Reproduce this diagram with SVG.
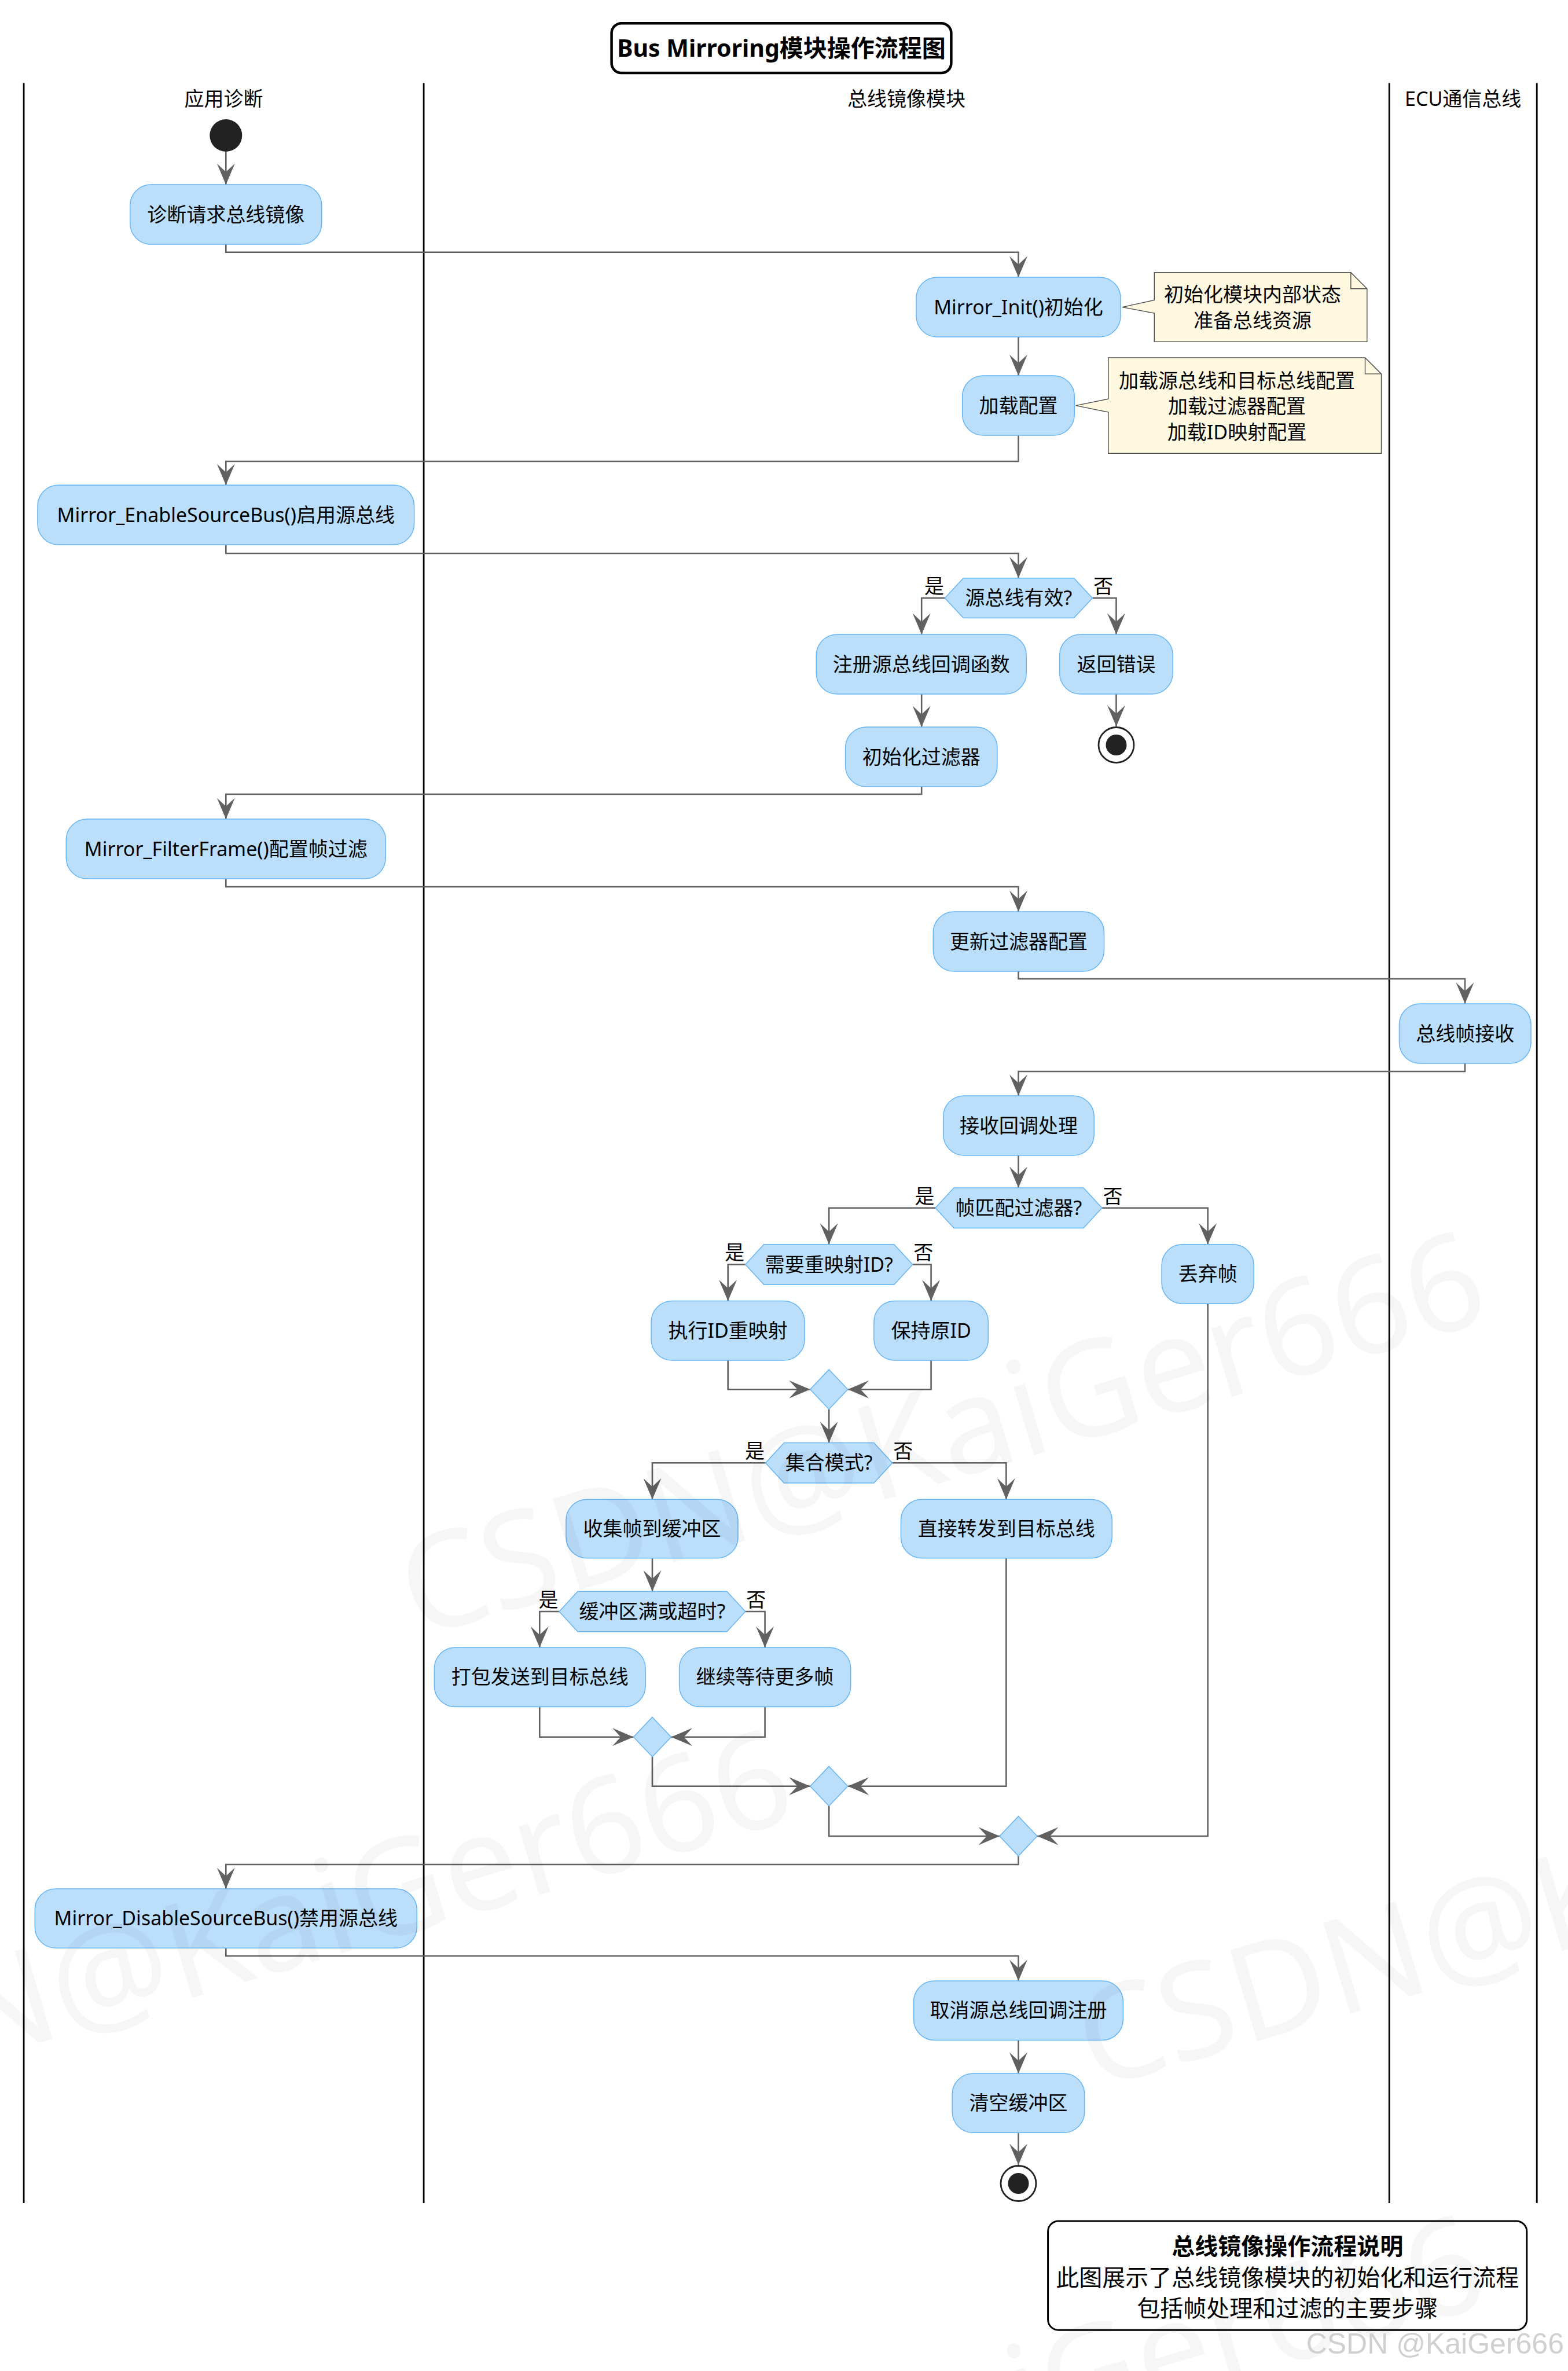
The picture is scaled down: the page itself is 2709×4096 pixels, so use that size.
<svg xmlns="http://www.w3.org/2000/svg" width="2709" height="4096" viewBox="0 0 2709 4096">
  <style>
    text { font-family: "Noto Sans", "Noto Sans CJK SC", sans-serif; font-size: 34px; fill: #000; }
    .c { text-anchor: middle; }
    .e { text-anchor: end; }
    .act { fill: #bbdefb; stroke: #64b5f6; stroke-width: 1.5; }
    .note { fill: #fef8e1; stroke: #4a4a4a; stroke-width: 1.4; }
    .fold { fill: none; stroke: #4a4a4a; stroke-width: 1.4; }
    .lane { stroke: #000; stroke-width: 2.8; }
    #connectors path { fill: none; stroke: #616161; stroke-width: 2.6; marker-end: url(#ah); }
    .wm { font-family: "Noto Sans", sans-serif; font-size: 230px; fill: #000; fill-opacity: 0.035; }
  </style>
  <defs>
    <marker id="ah" markerUnits="userSpaceOnUse" viewBox="-37 -16 38 32" markerWidth="38" markerHeight="32" refX="0" refY="0" orient="auto">
      <path d="M0,0 L-36.5,-15.5 L-22,0 L-36.5,15.5 Z" fill="#616161"/>
    </marker>
  </defs>

  <rect width="2709" height="4096" fill="#fff"/>

  <!-- title -->
  <g id="title">
    <rect x="1056.6" y="40.2" width="586.8" height="85.9" rx="17" fill="#fff" stroke="#000" stroke-width="4.5"/>
    <text x="1350" y="98" class="c" style="font-size:41px;font-weight:bold">Bus Mirroring模块操作流程图</text>
  </g>

  <!-- swimlanes -->
  <g id="lanes">
    <line class="lane" x1="41.1" y1="143.5" x2="41.1" y2="3806"/>
    <line class="lane" x1="732.1" y1="143.5" x2="732.1" y2="3806"/>
    <line class="lane" x1="2400.2" y1="143.5" x2="2400.2" y2="3806"/>
    <line class="lane" x1="2655.2" y1="143.5" x2="2655.2" y2="3806"/>
    <text x="386.6" y="183.4" class="c">应用诊断</text>
    <text x="1566" y="183.4" class="c">总线镜像模块</text>
    <text x="2527.7" y="183.4" class="c">ECU通信总线</text>
  </g>

  <!-- connectors -->
  <g id="connectors">
    <path d="M390.3,262 V319"/>
    <path d="M390.3,422 V435.7 H1759.5 V479"/>
    <path d="M1759.5,582 V649"/>
    <path d="M1759.5,752 V797 H390.3 V838"/>
    <path d="M390.3,941 V956 H1759.5 V998.7"/>
    <path d="M1632.4,1033.2 H1592.2 V1096"/>
    <path d="M1887.4,1033.2 H1928.5 V1096"/>
    <path d="M1928.5,1199 V1255"/>
    <path d="M1592.2,1199 V1256"/>
    <path d="M1592.2,1359 V1372 H390.3 V1415"/>
    <path d="M390.3,1518 V1532 H1759.5 V1575"/>
    <path d="M1759.5,1678 V1691 H2531 V1734"/>
    <path d="M2531,1837 V1851 H1759.5 V1893"/>
    <path d="M1759.5,1996 V2052"/>
    <path d="M1616,2086.7 H1432.2 V2149.7"/>
    <path d="M1903.9,2086.7 H2086.7 V2149.7"/>
    <path d="M1287.8,2184.5 H1257.7 V2247.5"/>
    <path d="M1576.7,2184.5 H1608.6 V2247.5"/>
    <path d="M1257.7,2350 V2400.2 H1399.7"/>
    <path d="M1608.6,2350 V2400.2 H1464.7"/>
    <path d="M1432.2,2434.5 V2492.5"/>
    <path d="M1322.6,2527.2 H1127 V2590.3"/>
    <path d="M1541.8,2527.2 H1738.4 V2590.3"/>
    <path d="M1127,2692 V2749.3"/>
    <path d="M966.1,2784 H932.3 V2846.2"/>
    <path d="M1287.8,2784 H1321.6 V2846.2"/>
    <path d="M932.3,2948.6 V3000.7 H1094.5"/>
    <path d="M1321.6,2948.6 V3000.7 H1159.5"/>
    <path d="M1127,3035 V3085.7 H1399.7"/>
    <path d="M1738.4,2692 V3085.7 H1464.7"/>
    <path d="M1432.2,3120 V3172 H1727"/>
    <path d="M2086.7,2252 V3172 H1792"/>
    <path d="M1759.5,3206.3 V3221 H390.3 V3263"/>
    <path d="M390.3,3365 V3379 H1759.5 V3422"/>
    <path d="M1759.5,3524.4 V3582"/>
    <path d="M1759.5,3684.3 V3740"/>
  </g>

  <!-- start -->
  <g id="start">
    <circle cx="390.3" cy="234" r="28" fill="#222"/>
  </g>

  <g id="a-request">
    <rect class="act" x="224.8" y="319" width="331" height="103" rx="36"/>
    <text x="390.3" y="382.5" class="c">诊断请求总线镜像</text>
  </g>

  <g id="a-init">
    <rect class="act" x="1583" y="479" width="353" height="103" rx="36"/>
    <text x="1759.5" y="542.5" class="c">Mirror_Init()初始化</text>
  </g>

  <g id="note-init">
    <path class="note" d="M1994.3,470.7 V518.5 L1939,530.6 L1994.3,541 V590.4 H2361.8 V498.7 L2333.8,470.7 Z"/>
    <path class="fold" d="M2333.8,470.7 V498.7 H2361.8"/>
    <text x="2164" y="521" class="c">初始化模块内部状态</text>
    <text x="2164" y="566" class="c">准备总线资源</text>
  </g>

  <g id="a-load">
    <rect class="act" x="1662.6" y="649" width="193.7" height="103" rx="36"/>
    <text x="1759.5" y="712.5" class="c">加载配置</text>
  </g>

  <g id="note-load">
    <path class="note" d="M1914.8,617.9 V689.2 L1858.5,700.6 L1914.8,712 V783.3 H2386.5 V645.9 L2358.5,617.9 Z"/>
    <path class="fold" d="M2358.5,617.9 V645.9 H2386.5"/>
    <text x="2137" y="669.5" class="c">加载源总线和目标总线配置</text>
    <text x="2137" y="714" class="c">加载过滤器配置</text>
    <text x="2137" y="758.5" class="c">加载ID映射配置</text>
  </g>

  <g id="a-enable">
    <rect class="act" x="65" y="838" width="650.6" height="103" rx="36"/>
    <text x="390.3" y="901.5" class="c">Mirror_EnableSourceBus()启用源总线</text>
  </g>

  <g id="d-valid">
    <polygon class="act" points="1632.4,1033.2 1664.4,998.7 1855.4,998.7 1887.4,1033.2 1855.4,1067.6 1664.4,1067.6"/>
    <text x="1759.9" y="1045.2" class="c">源总线有效?</text>
    <text x="1631" y="1025" class="e">是</text>
    <text x="1889" y="1025">否</text>
  </g>

  <g id="a-register">
    <rect class="act" x="1410.3" y="1096" width="362.9" height="103" rx="36"/>
    <text x="1591.8" y="1159.5" class="c">注册源总线回调函数</text>
  </g>

  <g id="a-error">
    <rect class="act" x="1830.7" y="1096" width="195.6" height="103" rx="36"/>
    <text x="1928.5" y="1159.5" class="c">返回错误</text>
  </g>

  <g id="end-error">
    <circle cx="1928.5" cy="1287" r="30.5" fill="#fff" stroke="#222" stroke-width="2.8"/>
    <circle cx="1928.5" cy="1287" r="18" fill="#222"/>
  </g>

  <g id="a-filter-init">
    <rect class="act" x="1460.6" y="1256" width="262.3" height="103" rx="36"/>
    <text x="1591.8" y="1319.5" class="c">初始化过滤器</text>
  </g>

  <g id="a-filterframe">
    <rect class="act" x="114.3" y="1415" width="552" height="103" rx="36"/>
    <text x="390.3" y="1478.5" class="c">Mirror_FilterFrame()配置帧过滤</text>
  </g>

  <g id="a-filter-update">
    <rect class="act" x="1612.3" y="1575" width="295.2" height="103" rx="36"/>
    <text x="1759.9" y="1638.5" class="c">更新过滤器配置</text>
  </g>

  <g id="a-bus-rx">
    <rect class="act" x="2417.5" y="1734" width="227.6" height="103" rx="36"/>
    <text x="2531.3" y="1797.5" class="c">总线帧接收</text>
  </g>

  <g id="a-rx-callback">
    <rect class="act" x="1629.7" y="1893" width="260.5" height="103" rx="36"/>
    <text x="1759.9" y="1956.5" class="c">接收回调处理</text>
  </g>

  <g id="d-match">
    <polygon class="act" points="1616,2086.7 1648,2051.9 1871.9,2051.9 1903.9,2086.7 1871.9,2121.4 1648,2121.4"/>
    <text x="1759.9" y="2098.7" class="c">帧匹配过滤器?</text>
    <text x="1614.5" y="2078.5" class="e">是</text>
    <text x="1905.5" y="2078.5">否</text>
  </g>

  <g id="d-remap">
    <polygon class="act" points="1287.8,2184.5 1319.8,2149.7 1544.7,2149.7 1576.7,2184.5 1544.7,2219.2 1319.8,2219.2"/>
    <text x="1432.2" y="2196.5" class="c">需要重映射ID?</text>
    <text x="1286.3" y="2176.3" class="e">是</text>
    <text x="1578.2" y="2176.3">否</text>
  </g>

  <g id="a-remap">
    <rect class="act" x="1125.1" y="2247.5" width="265.1" height="102.5" rx="36"/>
    <text x="1257.7" y="2310.7" class="c">执行ID重映射</text>
  </g>

  <g id="a-keep">
    <rect class="act" x="1509.9" y="2247.5" width="197.5" height="102.5" rx="36"/>
    <text x="1608.6" y="2310.7" class="c">保持原ID</text>
  </g>

  <g id="a-drop">
    <rect class="act" x="2007.1" y="2149.7" width="159.1" height="102.5" rx="36"/>
    <text x="2086.7" y="2212.9" class="c">丢弃帧</text>
  </g>

  <g id="m-remap">
    <polygon class="act" points="1432.2,2365.9 1464.7,2400.2 1432.2,2434.5 1399.7,2400.2"/>
  </g>

  <g id="d-mode">
    <polygon class="act" points="1322.6,2527.2 1354.6,2492.5 1509.8,2492.5 1541.8,2527.2 1509.8,2562 1354.6,2562"/>
    <text x="1432.2" y="2539.2" class="c">集合模式?</text>
    <text x="1321.1" y="2519" class="e">是</text>
    <text x="1543.3" y="2519">否</text>
  </g>

  <g id="a-collect">
    <rect class="act" x="978" y="2590.3" width="297" height="101.5" rx="36"/>
    <text x="1126.5" y="2653" class="c">收集帧到缓冲区</text>
  </g>

  <g id="a-forward">
    <rect class="act" x="1556.5" y="2590.3" width="364.7" height="101.5" rx="36"/>
    <text x="1738.8" y="2653" class="c">直接转发到目标总线</text>
  </g>

  <g id="d-buffer">
    <polygon class="act" points="966.1,2784 998.1,2749.3 1255.8,2749.3 1287.8,2784 1255.8,2818.8 998.1,2818.8"/>
    <text x="1127" y="2796" class="c">缓冲区满或超时?</text>
    <text x="964.6" y="2775.8" class="e">是</text>
    <text x="1289.3" y="2775.8">否</text>
  </g>

  <g id="a-pack">
    <rect class="act" x="750.4" y="2846.2" width="364.7" height="102.4" rx="36"/>
    <text x="932.7" y="2909.4" class="c">打包发送到目标总线</text>
  </g>

  <g id="a-wait">
    <rect class="act" x="1173.6" y="2846.2" width="296.1" height="102.4" rx="36"/>
    <text x="1321.6" y="2909.4" class="c">继续等待更多帧</text>
  </g>

  <g id="m-buffer">
    <polygon class="act" points="1127,2966.4 1159.5,3000.7 1127,3035 1094.5,3000.7"/>
  </g>

  <g id="m-mode">
    <polygon class="act" points="1432.2,3051.4 1464.7,3085.7 1432.2,3120 1399.7,3085.7"/>
  </g>

  <g id="m-match">
    <polygon class="act" points="1759.5,3137.7 1792,3172 1759.5,3206.3 1727,3172"/>
  </g>

  <g id="a-disable">
    <rect class="act" x="60.3" y="3263" width="659.9" height="102.3" rx="36"/>
    <text x="390.3" y="3326.2" class="c">Mirror_DisableSourceBus()禁用源总线</text>
  </g>

  <g id="a-unregister">
    <rect class="act" x="1578.5" y="3422" width="361.9" height="102.4" rx="36"/>
    <text x="1759.5" y="3485.2" class="c">取消源总线回调注册</text>
  </g>

  <g id="a-clear">
    <rect class="act" x="1645.2" y="3582" width="228.5" height="102.3" rx="36"/>
    <text x="1759.5" y="3645.2" class="c">清空缓冲区</text>
  </g>

  <g id="end">
    <circle cx="1759.5" cy="3772" r="30.5" fill="#fff" stroke="#222" stroke-width="2.8"/>
    <circle cx="1759.5" cy="3772" r="18" fill="#222"/>
  </g>

  <!-- legend -->
  <g id="legend">
    <rect x="1810.6" y="3837" width="827.2" height="188.3" rx="18" fill="#fff" stroke="#000" stroke-width="3"/>
    <text x="2224.2" y="3895" class="c" style="font-size:40px;font-weight:bold">总线镜像操作流程说明</text>
    <text x="2224.2" y="3949" class="c" style="font-size:40px">此图展示了总线镜像模块的初始化和运行流程</text>
    <text x="2224.2" y="4002" class="c" style="font-size:40px">包括帧处理和过滤的主要步骤</text>
  </g>

  <!-- watermark -->
  <g id="watermark">
    <text class="wm" x="720" y="2830" transform="rotate(-16.5 720 2830)">CSDN@KaiGer666</text>
    <text class="wm e" x="1382" y="3140" transform="rotate(-16.5 1382 3140)">CSDN@KaiGer666</text>
    <text class="wm" x="1890" y="3610" transform="rotate(-16.5 1890 3610)">CSDN@KaiGer666</text>
    <text class="wm" x="720" y="4530" transform="rotate(-16.5 720 4530)">CSDN@KaiGer666</text>
    <text x="2702" y="4066" class="e" style="font-family:'Liberation Sans',sans-serif;font-size:50px;fill:#d0d0d0">CSDN @KaiGer666</text>
  </g>
</svg>
